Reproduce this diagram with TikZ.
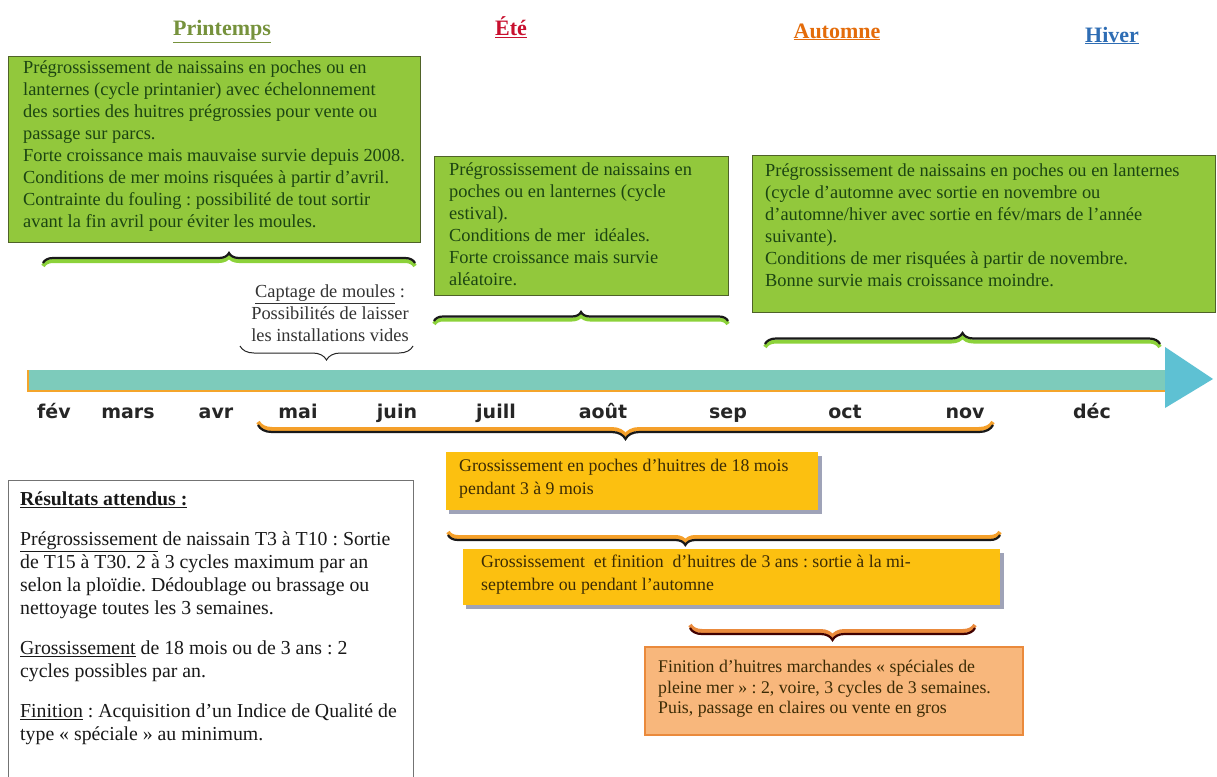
\documentclass[tikz,border=0pt]{standalone}
\usepackage{fontspec}
\setmainfont{Liberation Serif}
\newfontfamily\monthfont{DejaVu Sans}
\usetikzlibrary{decorations.pathreplacing,calc}
\frenchspacing
\definecolor{gfill}{HTML}{92C83C}
\definecolor{gdraw}{HTML}{4F6228}
\definecolor{gtxt}{HTML}{1C4512}
\definecolor{glow}{HTML}{8CD23A}
\definecolor{ofill}{HTML}{FCC010}
\definecolor{otxt}{HTML}{3B2B05}
\definecolor{oshadow}{HTML}{9FA3B8}
\definecolor{o3fill}{HTML}{F8B77C}
\definecolor{o3draw}{HTML}{EA8A3C}
\definecolor{oglow}{HTML}{F5A02A}
\definecolor{teal}{HTML}{7DCBBB}
\definecolor{ahead}{HTML}{5EC1D3}
\definecolor{barline}{HTML}{F4A52B}
\definecolor{cPrint}{HTML}{76923C}
\definecolor{cEte}{HTML}{C8102E}
\definecolor{cAut}{HTML}{E46C0A}
\definecolor{cHiv}{HTML}{2E6DB4}
\begin{document}
\begin{tikzpicture}[x=1pt,y=-1pt,
  gbox/.style={draw=gdraw, line width=1pt, fill=gfill, inner sep=0pt, anchor=north west},
  gtext/.style={text=gtxt, align=left, anchor=north west, inner sep=0pt, font=\fontsize{18.4}{22}\selectfont},
  obox/.style={draw=none, fill=ofill, inner sep=0pt, anchor=north west},
  otext/.style={text=otxt, align=left, anchor=north west, inner sep=0pt, font=\fontsize{17.8}{22.5}\selectfont},
  season/.style={anchor=base, font=\fontsize{22}{26}\selectfont\bfseries},
  month/.style={anchor=base, font=\fontsize{19}{22}\monthfont\bfseries, text=black!85},
  blackbrace/.style={decorate, decoration={brace, amplitude=#1}, line width=2.2pt, draw=black!90},
  glowbrace/.style={decorate, decoration={brace, amplitude=#1}, line width=4pt, draw=glow},
  oglowbrace/.style={decorate, decoration={brace, amplitude=#1}, line width=4pt, draw=oglow},
]
\path[use as bounding box, fill=white] (0,0) rectangle (1217,776);

% season titles
\node[season, text=cPrint] (sPrint) at (222,36) {\underline{Printemps}};
\node[season, text=cEte] (sEte) at (511,36) {\underline{Été}};
\node[season, text=cAut] (sAut) at (837,38) {\underline{Automne}};
\node[season, text=cHiv] (sHiv) at (1112,42) {\underline{Hiver}};

% green boxes
\node[gbox, minimum width=412, minimum height=186] (g1) at (8,56) {};
\node[gtext] (g1t) at (23,61) {Prégrossissement de naissains en poches ou en\\lanternes (cycle printanier) avec échelonnement\\des sorties des huitres prégrossies pour vente ou\\passage sur parcs.\\Forte croissance mais mauvaise survie depuis 2008.\\Conditions de mer moins risquées à partir d’avril.\\Contrainte du fouling : possibilité de tout sortir\\avant la fin avril pour éviter les moules.};

\node[gbox, minimum width=294, minimum height=139] (g2) at (434,156) {};
\node[gtext] (g2t) at (449,163) {Prégrossissement de naissains en\\poches ou en lanternes (cycle\\estival).\\Conditions de mer\ \ idéales.\\Forte croissance mais survie\\aléatoire.};

\node[gbox, minimum width=463, minimum height=157] (g3) at (752,155) {};
\node[gtext] (g3t) at (765,164) {Prégrossissement de naissains en poches ou en lanternes\\(cycle d’automne avec sortie en novembre ou\\d’automne/hiver avec sortie en fév/mars de l’année\\suivante).\\Conditions de mer risquées à partir de novembre.\\Bonne survie mais croissance moindre.};

% green braces (tip up)
\coordinate (b1l) at (43,263); \coordinate (b1r) at (415,263);
\coordinate (b2l) at (434,321); \coordinate (b2r) at (728,321);
\coordinate (b3l) at (765,344); \coordinate (b3r) at (1160,344);
\draw[glowbrace=10pt] ([yshift=-3pt]b1l) -- ([yshift=-3pt]b1r);
\draw[blackbrace=10pt] (b1l) -- (b1r);
\draw[glowbrace=9pt] ([yshift=-3pt]b2l) -- ([yshift=-3pt]b2r);
\draw[blackbrace=9pt] (b2l) -- (b2r);
\draw[glowbrace=11pt] ([yshift=-3pt]b3l) -- ([yshift=-3pt]b3r);
\draw[blackbrace=11pt] (b3l) -- (b3r);

% captage
\node[anchor=north, align=center, inner sep=0pt, text=black!80, font=\fontsize{18.4}{22}\selectfont] (capt) at (330,285) {\underline{Captage de moules} :\\Possibilités de laisser\\les installations vides};
\coordinate (cbr) at (413,346); \coordinate (cbl) at (240,346);
\draw[decorate, decoration={brace, amplitude=14pt}, line width=1pt, draw=black!85] (cbr) -- (cbl);

% timeline arrow
\path[fill=teal] (28,370) rectangle (1168,391);
\draw[barline, line width=2.2pt] (28,370) -- (28,391) -- (1168,391);
\path[fill=ahead] (1165,347) -- (1213,379) -- (1165,408) -- cycle;

% months
\node[month] (mfev) at (54,418) {fév};
\node[month] (mmar) at (128,418) {mars};
\node[month] (mavr) at (216,418) {avr};
\node[month] (mmai) at (298,418) {mai};
\node[month] (mjun) at (397,418) {juin};
\node[month] (mjul) at (496,418) {juill};
\node[month] (maou) at (603,418) {août};
\node[month] (msep) at (728,418) {sep};
\node[month] (moct) at (845,418) {oct};
\node[month] (mnov) at (965,418) {nov};
\node[month] (mdec) at (1092,418) {déc};

% month brace (tip down)
\coordinate (mbr) at (993,425); \coordinate (mbl) at (258,425);
\draw[oglowbrace=14pt] ([yshift=3pt]mbr) -- ([yshift=3pt]mbl);
\draw[blackbrace=14pt] (mbr) -- (mbl);

% orange box 1
\path[fill=oshadow] (449,456) rectangle (822,514);
\node[obox, minimum width=372, minimum height=58] (o1) at (446,452) {};
\node[otext] (o1t) at (459,459) {Grossissement en poches d’huitres de 18 mois\\pendant 3 à 9 mois};

% brace above orange box 2
\coordinate (b5r) at (1000,535); \coordinate (b5l) at (448,535);
\draw[decorate, decoration={brace, amplitude=10pt, aspect=0.57}, line width=4pt, draw=oglow] ([yshift=3pt]b5r) -- ([yshift=3pt]b5l);
\draw[decorate, decoration={brace, amplitude=10pt, aspect=0.57}, line width=2.2pt, draw=black!90] (b5r) -- (b5l);

% orange box 2
\path[fill=oshadow] (466,553) rectangle (1004,609);
\node[obox, minimum width=537, minimum height=56] (o2) at (463,549) {};
\node[otext] (o2t) at (481,555) {Grossissement\ \ et finition\ \ d’huitres de 3 ans : sortie à la mi-\\septembre ou pendant l’automne};

% brace above orange box 3
\coordinate (b6r) at (975,628); \coordinate (b6l) at (690,628);
\draw[oglowbrace=12pt, draw=o3draw] ([yshift=3pt]b6r) -- ([yshift=3pt]b6l);
\draw[blackbrace=12pt, draw=black!75!red] (b6r) -- (b6l);

% orange box 3
\node[draw=o3draw, line width=1.5pt, fill=o3fill, inner sep=0pt, anchor=north west, minimum width=378, minimum height=88] (o3) at (644,646) {};
\node[otext, font=\fontsize{17.8}{20.5}\selectfont] (o3t) at (658,660) {Finition d’huitres marchandes « spéciales de\\pleine mer » : 2, voire, 3 cycles de 3 semaines.\\Puis, passage en claires ou vente en gros};

% results box
\node[draw=black!55, line width=1pt, fill=white, inner sep=0pt, anchor=north west, minimum width=405, minimum height=300] (res) at (8,480) {};
\node[anchor=north west, align=left, inner sep=0pt, text=black!90, font=\fontsize{19.8}{23}\selectfont] (rest) at (20,492) {\textbf{\underline{Résultats attendus :}}\\[17pt]
\underline{Prégrossissement} de naissain T3 à T10 : Sortie\\de T15 à T30. 2 à 3 cycles maximum par an\\selon la ploïdie. Dédoublage ou brassage ou\\nettoyage toutes les 3 semaines.\\[17pt]
\underline{Grossissement} de 18 mois ou de 3 ans : 2\\cycles possibles par an.\\[17pt]
\underline{Finition} : Acquisition d’un Indice de Qualité de\\type « spéciale » au minimum.};
\end{tikzpicture}
\end{document}
